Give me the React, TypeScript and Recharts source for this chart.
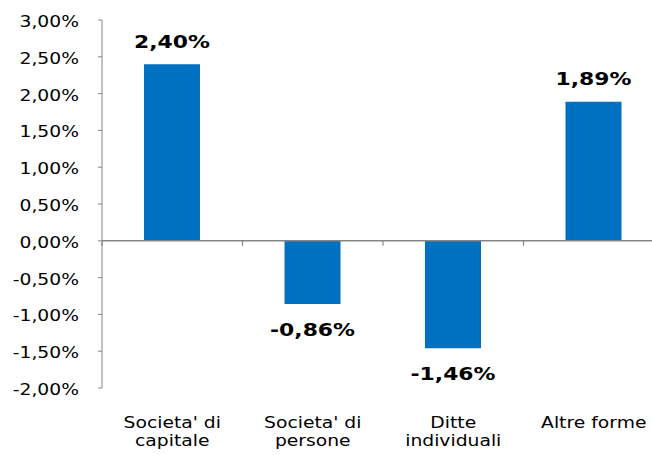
import { BarChart, Bar, XAxis, YAxis, ReferenceLine, LabelList } from 'recharts'

// categories (line breaks as in the original labels)
const categories = ["Societa' di\ncapitale", "Societa' di\npersone", 'Ditte\nindividuali', 'Altre forme']
const values = [2.4, -0.86, -1.46, 1.89]
const yTicks = [-2, -1.5, -1, -0.5, 0, 0.5, 1, 1.5, 2, 2.5, 3]

const data = categories.map((name, i) => ({ name, value: values[i] }))

const WIDTH = 666
const HEIGHT = 455
const MARGIN = { top: 20, right: 2, bottom: 0, left: 0 }
const X_AXIS_H = 67
const Y_AXIS_W = 102
const PLOT_H = HEIGHT - MARGIN.top - MARGIN.bottom - X_AXIS_H
const PLOT_W = WIDTH - MARGIN.left - MARGIN.right - Y_AXIS_W
const ZERO_Y = MARGIN.top + PLOT_H * (3 / 5)
const STEP = PLOT_W / categories.length

const AXIS = '#868686'
const BAR = '#0070C0'
const FONT = '"DejaVu Sans", Verdana, sans-serif'
const STRETCH = 'scale(1.25,1)'

const fmt = (v: number) => v.toFixed(2).replace('.', ',') + '%'

const YTick = ({ x, y, payload }: any) => (
  <g transform={`translate(${x},${y})`}>
    <text transform={STRETCH} textAnchor="end" dy={7} fontSize={15} fontFamily={FONT} fill="#000">
      {fmt(payload.value)}
    </text>
  </g>
)

const XTick = ({ x, y, payload, index }: any) => {
  const half = payload.offset || STEP / 2
  const lines = String(payload.value).split('\n')
  return (
    <g>
      <line x1={x - half} x2={x - half} y1={ZERO_Y} y2={ZERO_Y + 5} stroke={AXIS} strokeWidth={1.2} />
      {index === categories.length - 1 && (
        <line x1={x + half} x2={x + half} y1={ZERO_Y} y2={ZERO_Y + 5} stroke={AXIS} strokeWidth={1.2} />
      )}
      {lines.map((l, i) => (
        <g key={i} transform={`translate(${x},${y + 40 + i * 18})`}>
          <text transform={STRETCH} textAnchor="middle" fontSize={15} fontFamily={FONT} fill="#000">
            {l}
          </text>
        </g>
      ))}
    </g>
  )
}

const ValueLabel = ({ x, y, width, height, value }: any) => {
  const top = Math.min(y, y + height)
  const bottom = Math.max(y, y + height)
  const by = value >= 0 ? top - 16.5 : bottom + 32
  return (
    <g transform={`translate(${x + width / 2},${by})`}>
      <text transform={STRETCH} textAnchor="middle" fontSize={17.5} fontWeight="bold" fontFamily={FONT} fill="#000">
        {fmt(value)}
      </text>
    </g>
  )
}

export default function App() {
  return (
    <div style={{ position: 'absolute', left: 0, top: 0, width: 652, height: 455, overflow: 'hidden', background: '#fff' }}>
      <BarChart width={WIDTH} height={HEIGHT} data={data} margin={MARGIN}>
        <XAxis
          dataKey="name"
          height={X_AXIS_H}
          axisLine={false}
          tickLine={false}
          tickSize={0}
          tickMargin={0}
          interval={0}
          tick={<XTick />}
        />
        <YAxis
          type="number"
          domain={[-2, 3]}
          ticks={yTicks}
          interval={0}
          width={Y_AXIS_W}
          stroke={AXIS}
          tickSize={4}
          tickMargin={19}
          tick={<YTick />}
        />
        <ReferenceLine y={0} stroke={AXIS} strokeWidth={1.5} />
        <Bar dataKey="value" fill={BAR} barSize={56} isAnimationActive={false}>
          <LabelList dataKey="value" content={<ValueLabel />} />
        </Bar>
      </BarChart>
    </div>
  )
}
